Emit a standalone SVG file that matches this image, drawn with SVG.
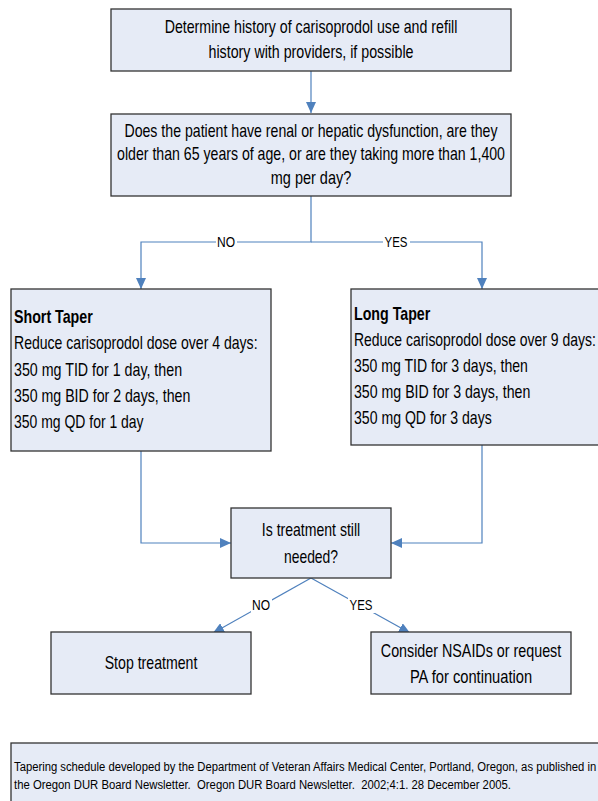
<svg xmlns="http://www.w3.org/2000/svg" width="598" height="801" viewBox="0 0 598 801">
<defs>
<style>
.box{fill:#E6EBF6;stroke:#333;stroke-width:1.3}
text{font-family:"Liberation Sans",Arial,sans-serif;fill:#000}
.t{font-size:18px}
.c{text-anchor:middle}
.b{font-weight:bold}
.lbl{font-size:14.5px;text-anchor:middle}
.f{font-size:13.5px;white-space:pre}
.conn{fill:none;stroke:#4F81BD;stroke-width:1.2}
</style>
<marker id="ah" markerUnits="userSpaceOnUse" markerWidth="12" markerHeight="10" refX="11" refY="5" orient="auto">
<path d="M0,0 L11,5 L0,10 Z" fill="#4F81BD"/>
</marker>
</defs>
<rect width="598" height="801" fill="#fff"/>

<g id="connectors">
<path class="conn" d="M311,71 V113" marker-end="url(#ah)"/>
<path class="conn" d="M311,196 V242 H141 V289" marker-end="url(#ah)"/>
<path class="conn" d="M311,242 H482 V289" marker-end="url(#ah)"/>
<path class="conn" d="M141,451 V543 H231" marker-end="url(#ah)"/>
<path class="conn" d="M482,445 V543 H391" marker-end="url(#ah)"/>
<path class="conn" d="M311,578 L213,633" marker-end="url(#ah)"/>
<path class="conn" d="M311,578 L410,633" marker-end="url(#ah)"/>
<rect x="216" y="234" width="21" height="16" fill="#fff"/>
<text class="lbl" transform="translate(226,247) scale(0.82,1)" textLength="22" lengthAdjust="spacingAndGlyphs">NO</text>
<rect x="383" y="234" width="27" height="16" fill="#fff"/>
<text class="lbl" transform="translate(396,247) scale(0.82,1)" textLength="28" lengthAdjust="spacingAndGlyphs">YES</text>
<rect x="251" y="597" width="21" height="16" fill="#fff"/>
<text class="lbl" transform="translate(261,610) scale(0.82,1)" textLength="22" lengthAdjust="spacingAndGlyphs">NO</text>
<rect x="348" y="597" width="27" height="16" fill="#fff"/>
<text class="lbl" transform="translate(361,610) scale(0.82,1)" textLength="28" lengthAdjust="spacingAndGlyphs">YES</text>
</g>

<g id="history">
<rect class="box" x="111" y="9" width="400" height="62"/>
<text class="t c" transform="translate(311,33) scale(0.82,1)" textLength="357" lengthAdjust="spacingAndGlyphs">Determine history of carisoprodol use and refill</text>
<text class="t c" transform="translate(311,58) scale(0.82,1)" textLength="250" lengthAdjust="spacingAndGlyphs">history with providers, if possible</text>
</g>

<g id="question">
<rect class="box" x="111" y="114" width="400" height="82"/>
<text class="t c" transform="translate(311,137) scale(0.82,1)" textLength="455" lengthAdjust="spacingAndGlyphs">Does the patient have renal or hepatic dysfunction, are they</text>
<text class="t c" transform="translate(311,160) scale(0.82,1)" textLength="473" lengthAdjust="spacingAndGlyphs">older than 65 years of age, or are they taking more than 1,400</text>
<text class="t c" transform="translate(311,184) scale(0.82,1)" textLength="98" lengthAdjust="spacingAndGlyphs">mg per day?</text>
</g>

<g id="short-taper">
<rect class="box" x="11" y="289" width="260" height="162"/>
<text class="t b" transform="translate(14,323) scale(0.82,1)" textLength="96" lengthAdjust="spacingAndGlyphs">Short Taper</text>
<text class="t" transform="translate(14,349) scale(0.82,1)" textLength="297" lengthAdjust="spacingAndGlyphs">Reduce carisoprodol dose over 4 days:</text>
<text class="t" transform="translate(14,376) scale(0.82,1)" textLength="205" lengthAdjust="spacingAndGlyphs">350 mg TID for 1 day, then</text>
<text class="t" transform="translate(14,402) scale(0.82,1)" textLength="215" lengthAdjust="spacingAndGlyphs">350 mg BID for 2 days, then</text>
<text class="t" transform="translate(14,428) scale(0.82,1)" textLength="158" lengthAdjust="spacingAndGlyphs">350 mg QD for 1 day</text>
</g>

<g id="long-taper">
<rect class="box" x="351" y="289" width="260" height="156"/>
<text class="t b" transform="translate(354,320) scale(0.82,1)" textLength="93" lengthAdjust="spacingAndGlyphs">Long Taper</text>
<text class="t" transform="translate(354,346) scale(0.77,1)" textLength="314" lengthAdjust="spacingAndGlyphs">Reduce carisoprodol dose over 9 days:</text>
<text class="t" transform="translate(354,372) scale(0.82,1)" textLength="212" lengthAdjust="spacingAndGlyphs">350 mg TID for 3 days, then</text>
<text class="t" transform="translate(354,398) scale(0.82,1)" textLength="215" lengthAdjust="spacingAndGlyphs">350 mg BID for 3 days, then</text>
<text class="t" transform="translate(354,424) scale(0.82,1)" textLength="168" lengthAdjust="spacingAndGlyphs">350 mg QD for 3 days</text>
</g>

<g id="still-needed">
<rect class="box" x="231" y="508" width="160" height="70"/>
<text class="t c" transform="translate(311,536) scale(0.82,1)" textLength="120" lengthAdjust="spacingAndGlyphs">Is treatment still</text>
<text class="t c" transform="translate(311,563) scale(0.82,1)" textLength="66" lengthAdjust="spacingAndGlyphs">needed?</text>
</g>

<g id="stop">
<rect class="box" x="51" y="632" width="200" height="62"/>
<text class="t c" transform="translate(151,669) scale(0.82,1)" textLength="113" lengthAdjust="spacingAndGlyphs">Stop treatment</text>
</g>

<g id="consider">
<rect class="box" x="371" y="632" width="200" height="62"/>
<text class="t c" transform="translate(471,657) scale(0.82,1)" textLength="220" lengthAdjust="spacingAndGlyphs">Consider NSAIDs or request</text>
<text class="t c" transform="translate(471,683) scale(0.82,1)" textLength="149" lengthAdjust="spacingAndGlyphs">PA for continuation</text>
</g>

<g id="footer">
<rect class="box" x="11" y="743" width="600" height="62"/>
<text class="f" transform="translate(14,771) scale(0.82,1)" textLength="710" lengthAdjust="spacingAndGlyphs">Tapering schedule developed by the Department of Veteran Affairs Medical Center, Portland, Oregon, as published in</text>
<text class="f" transform="translate(14,789) scale(0.82,1)" textLength="606" lengthAdjust="spacingAndGlyphs">the Oregon DUR Board Newsletter.  Oregon DUR Board Newsletter.  2002;4:1. 28 December 2005.</text>
</g>
</svg>
